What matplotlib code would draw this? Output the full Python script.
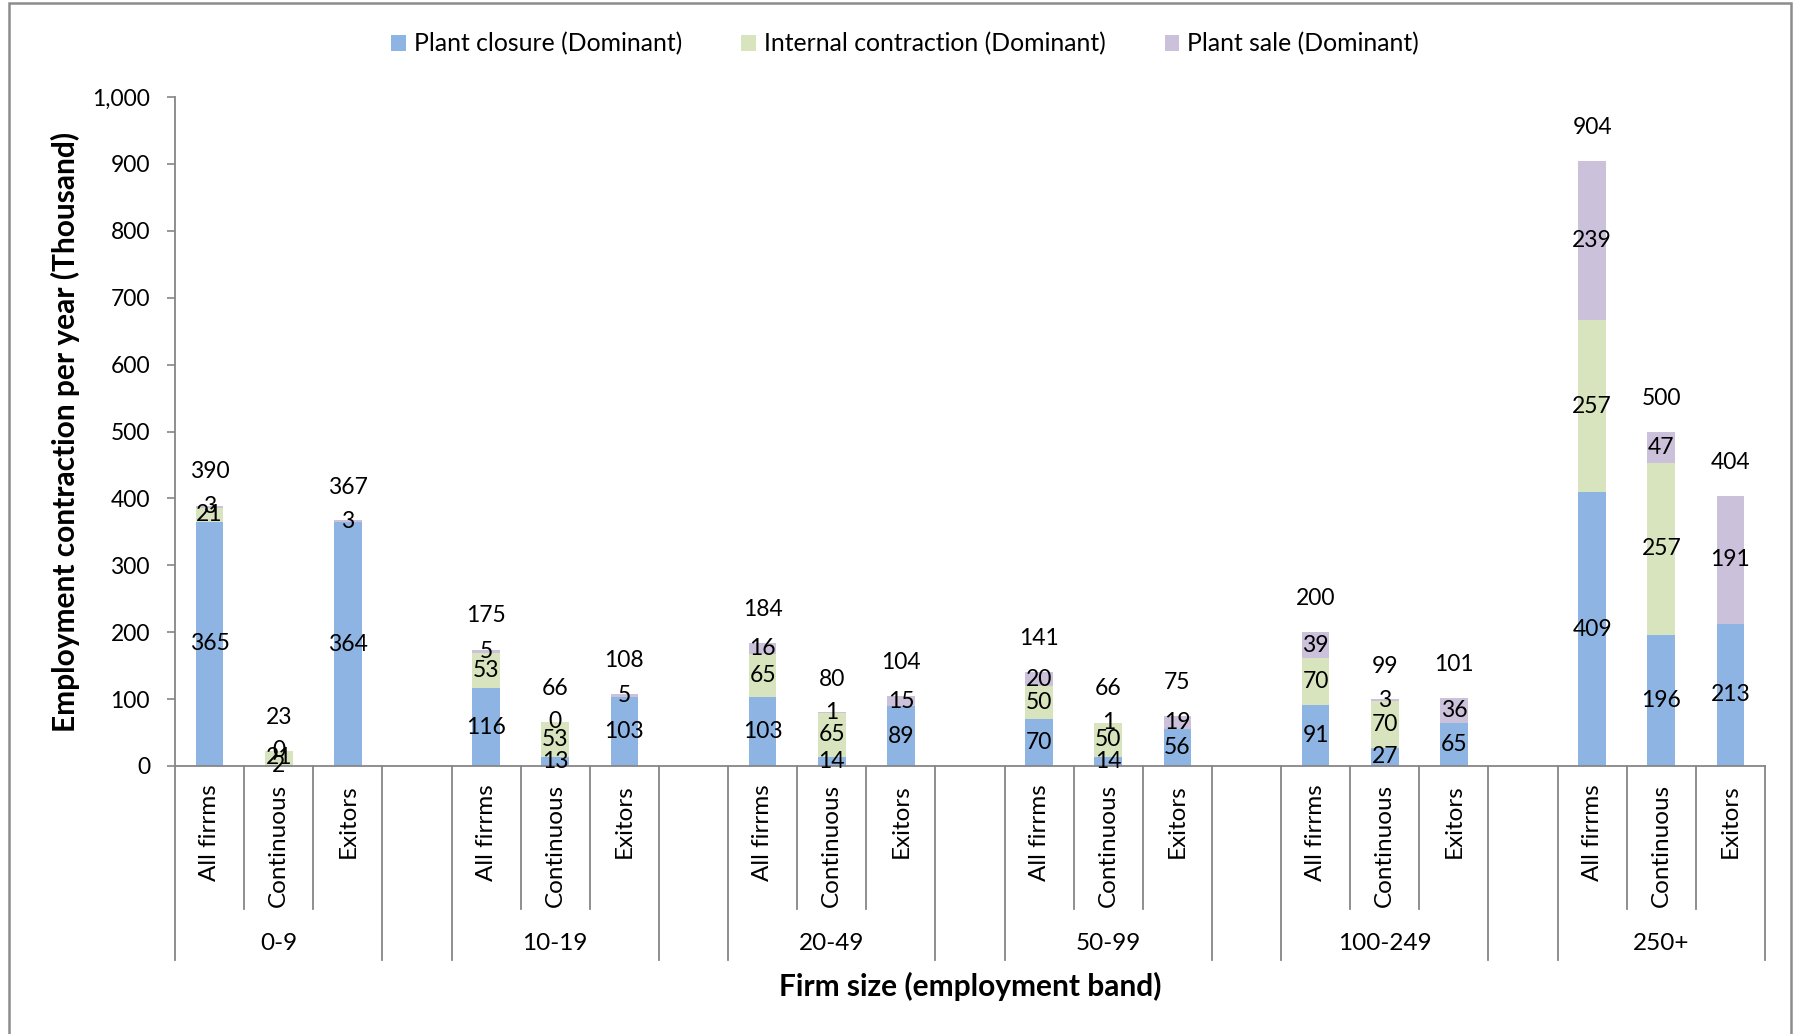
import matplotlib
matplotlib.use("Agg")
import matplotlib.pyplot as plt
import numpy as np
from matplotlib.patches import Patch, Rectangle
from matplotlib.ticker import FuncFormatter

# ---------------- data ----------------
groups = ["0-9", "10-19", "20-49", "50-99", "100-249", "250+"]
subcats = ["All firrms", "Continuous", "Exitors"]
series_names = ["Plant closure (Dominant)", "Internal contraction (Dominant)", "Plant sale (Dominant)"]

# values per bar in order: group by group, All firms / Continuous / Exitors
plant_closure = [365, 2, 364, 116, 13, 103, 103, 14, 89, 70, 14, 56, 91, 27, 65, 409, 196, 213]
internal_contraction = [21, 21, None, 53, 53, None, 65, 65, None, 50, 50, None, 70, 70, None, 257, 257, None]
plant_sale = [3, 0, 3, 5, 0, 5, 16, 1, 15, 20, 1, 19, 39, 3, 36, 239, 47, 191]
totals = [390, 23, 367, 175, 66, 108, 184, 80, 104, 141, 66, 75, 200, 99, 101, 904, 500, 404]

yticks = [0, 100, 200, 300, 400, 500, 600, 700, 800, 900, 1000]

# ---------------- style ----------------
colors = ["#8EB4E3", "#D7E4BD", "#CCC1DA"]
FONT = "Lato"
FS = 16.5      # numbers
FS_TXT = 17.5  # words
FS_TITLE = 21.5
plt.rcParams["font.family"] = [FONT, "DejaVu Sans"]
GRAY = "#868686"

W, H = 1796, 1034
fig = plt.figure(figsize=(W / 100, H / 100), dpi=100)
ax_l, ax_r, ax_t, ax_b = 175, 1765, 97, 766
ax = fig.add_axes([ax_l / W, 1 - ax_b / H, (ax_r - ax_l) / W, (ax_b - ax_t) / H])

n_groups = len(groups)
n_sub = len(subcats)
step = n_sub + 1
positions = [g * step + k for g in range(n_groups) for k in range(n_sub)]
n_slots = n_groups * step - 1

def clean(v):
    return np.array([np.nan if x is None else x for x in v], dtype=float)

vals = [clean(plant_closure), clean(internal_contraction), clean(plant_sale)]
bottom = np.zeros(len(positions))
width = 0.4
for s, (v, c, name) in enumerate(zip(vals, colors, series_names)):
    h = np.nan_to_num(v)
    ax.bar(positions, h, width=width, bottom=bottom, color=c, linewidth=0, label=name, zorder=2)
    for i, x in enumerate(positions):
        if not np.isnan(v[i]):
            ax.text(x, bottom[i] + h[i] / 2, f"{int(v[i])}", ha="center", va="center",
                    fontsize=FS, color="black", zorder=4)
    bottom = bottom + h

label_offset = 50
for x, t in zip(positions, totals):
    ax.text(x, t + label_offset, f"{t}", ha="center", va="center", fontsize=FS, color="black")

ax.set_xlim(-0.5, n_slots - 0.5)
ax.set_ylim(0, 1000)
ax.set_yticks(yticks)
ax.yaxis.set_major_formatter(FuncFormatter(lambda v, p: f"{int(v):,}"))
ax.tick_params(axis="y", direction="out", length=6, width=1.2, color=GRAY, labelsize=FS, pad=12)
ax.tick_params(axis="x", bottom=False, labelbottom=False)
for sp in ["top", "right"]:
    ax.spines[sp].set_visible(False)
for sp in ["left", "bottom"]:
    ax.spines[sp].set_color(GRAY)
    ax.spines[sp].set_linewidth(1.3)

# multi-level category axis
trans = ax.get_xaxis_transform()
px = 1.0 / (ax_b - ax_t)
y_short = -(909 - ax_b) * px
y_long = -(960 - ax_b) * px
group_bounds = set()
for g in range(n_groups):
    group_bounds.add(g * step - 0.5)
    group_bounds.add(g * step + n_sub - 0.5)
for k in range(n_slots + 1):
    xb = k - 0.5
    yend = y_long if xb in group_bounds else y_short
    ax.plot([xb, xb], [0, yend], transform=trans, color=GRAY, lw=1.3, clip_on=False)

y_sub = -(784 - ax_b) * px
for i, x in enumerate(positions):
    ax.text(x, y_sub, subcats[i % n_sub], transform=trans, rotation=90, ha="center", va="top",
            fontsize=FS_TXT)
y_grp = -(943 - ax_b) * px
for g, name in enumerate(groups):
    ax.text(g * step + (n_sub - 1) / 2, y_grp, name, transform=trans, ha="center", va="center",
            fontsize=FS_TXT)

# axis titles
fig.text(970 / W, 1 - 986 / H, "Firm size (employment band)", ha="center", va="center",
         fontsize=FS_TITLE, fontweight="bold")
fig.text(65 / W, 1 - 432 / H, "Employment contraction per year (Thousand)", ha="center",
         va="center", rotation=90, fontsize=FS_TITLE, fontweight="bold")

# legend
handles = [Patch(facecolor=c, edgecolor="none") for c in colors]
fig.legend(handles, series_names, loc="center", bbox_to_anchor=(905 / W, 1 - 44 / H), ncol=3,
           frameon=False, fontsize=FS_TXT + 0.3, handlelength=0.6, handleheight=0.6,
           handletextpad=0.3, columnspacing=2.4)

# chart border
fig.patches.append(Rectangle((9 / W, -0.01), (1791 - 9) / W, 1 - 3 / H + 0.01,
                             transform=fig.transFigure, fill=False, edgecolor="#8C8C8C",
                             linewidth=1.8))

fig.savefig("out.png", dpi=100)
